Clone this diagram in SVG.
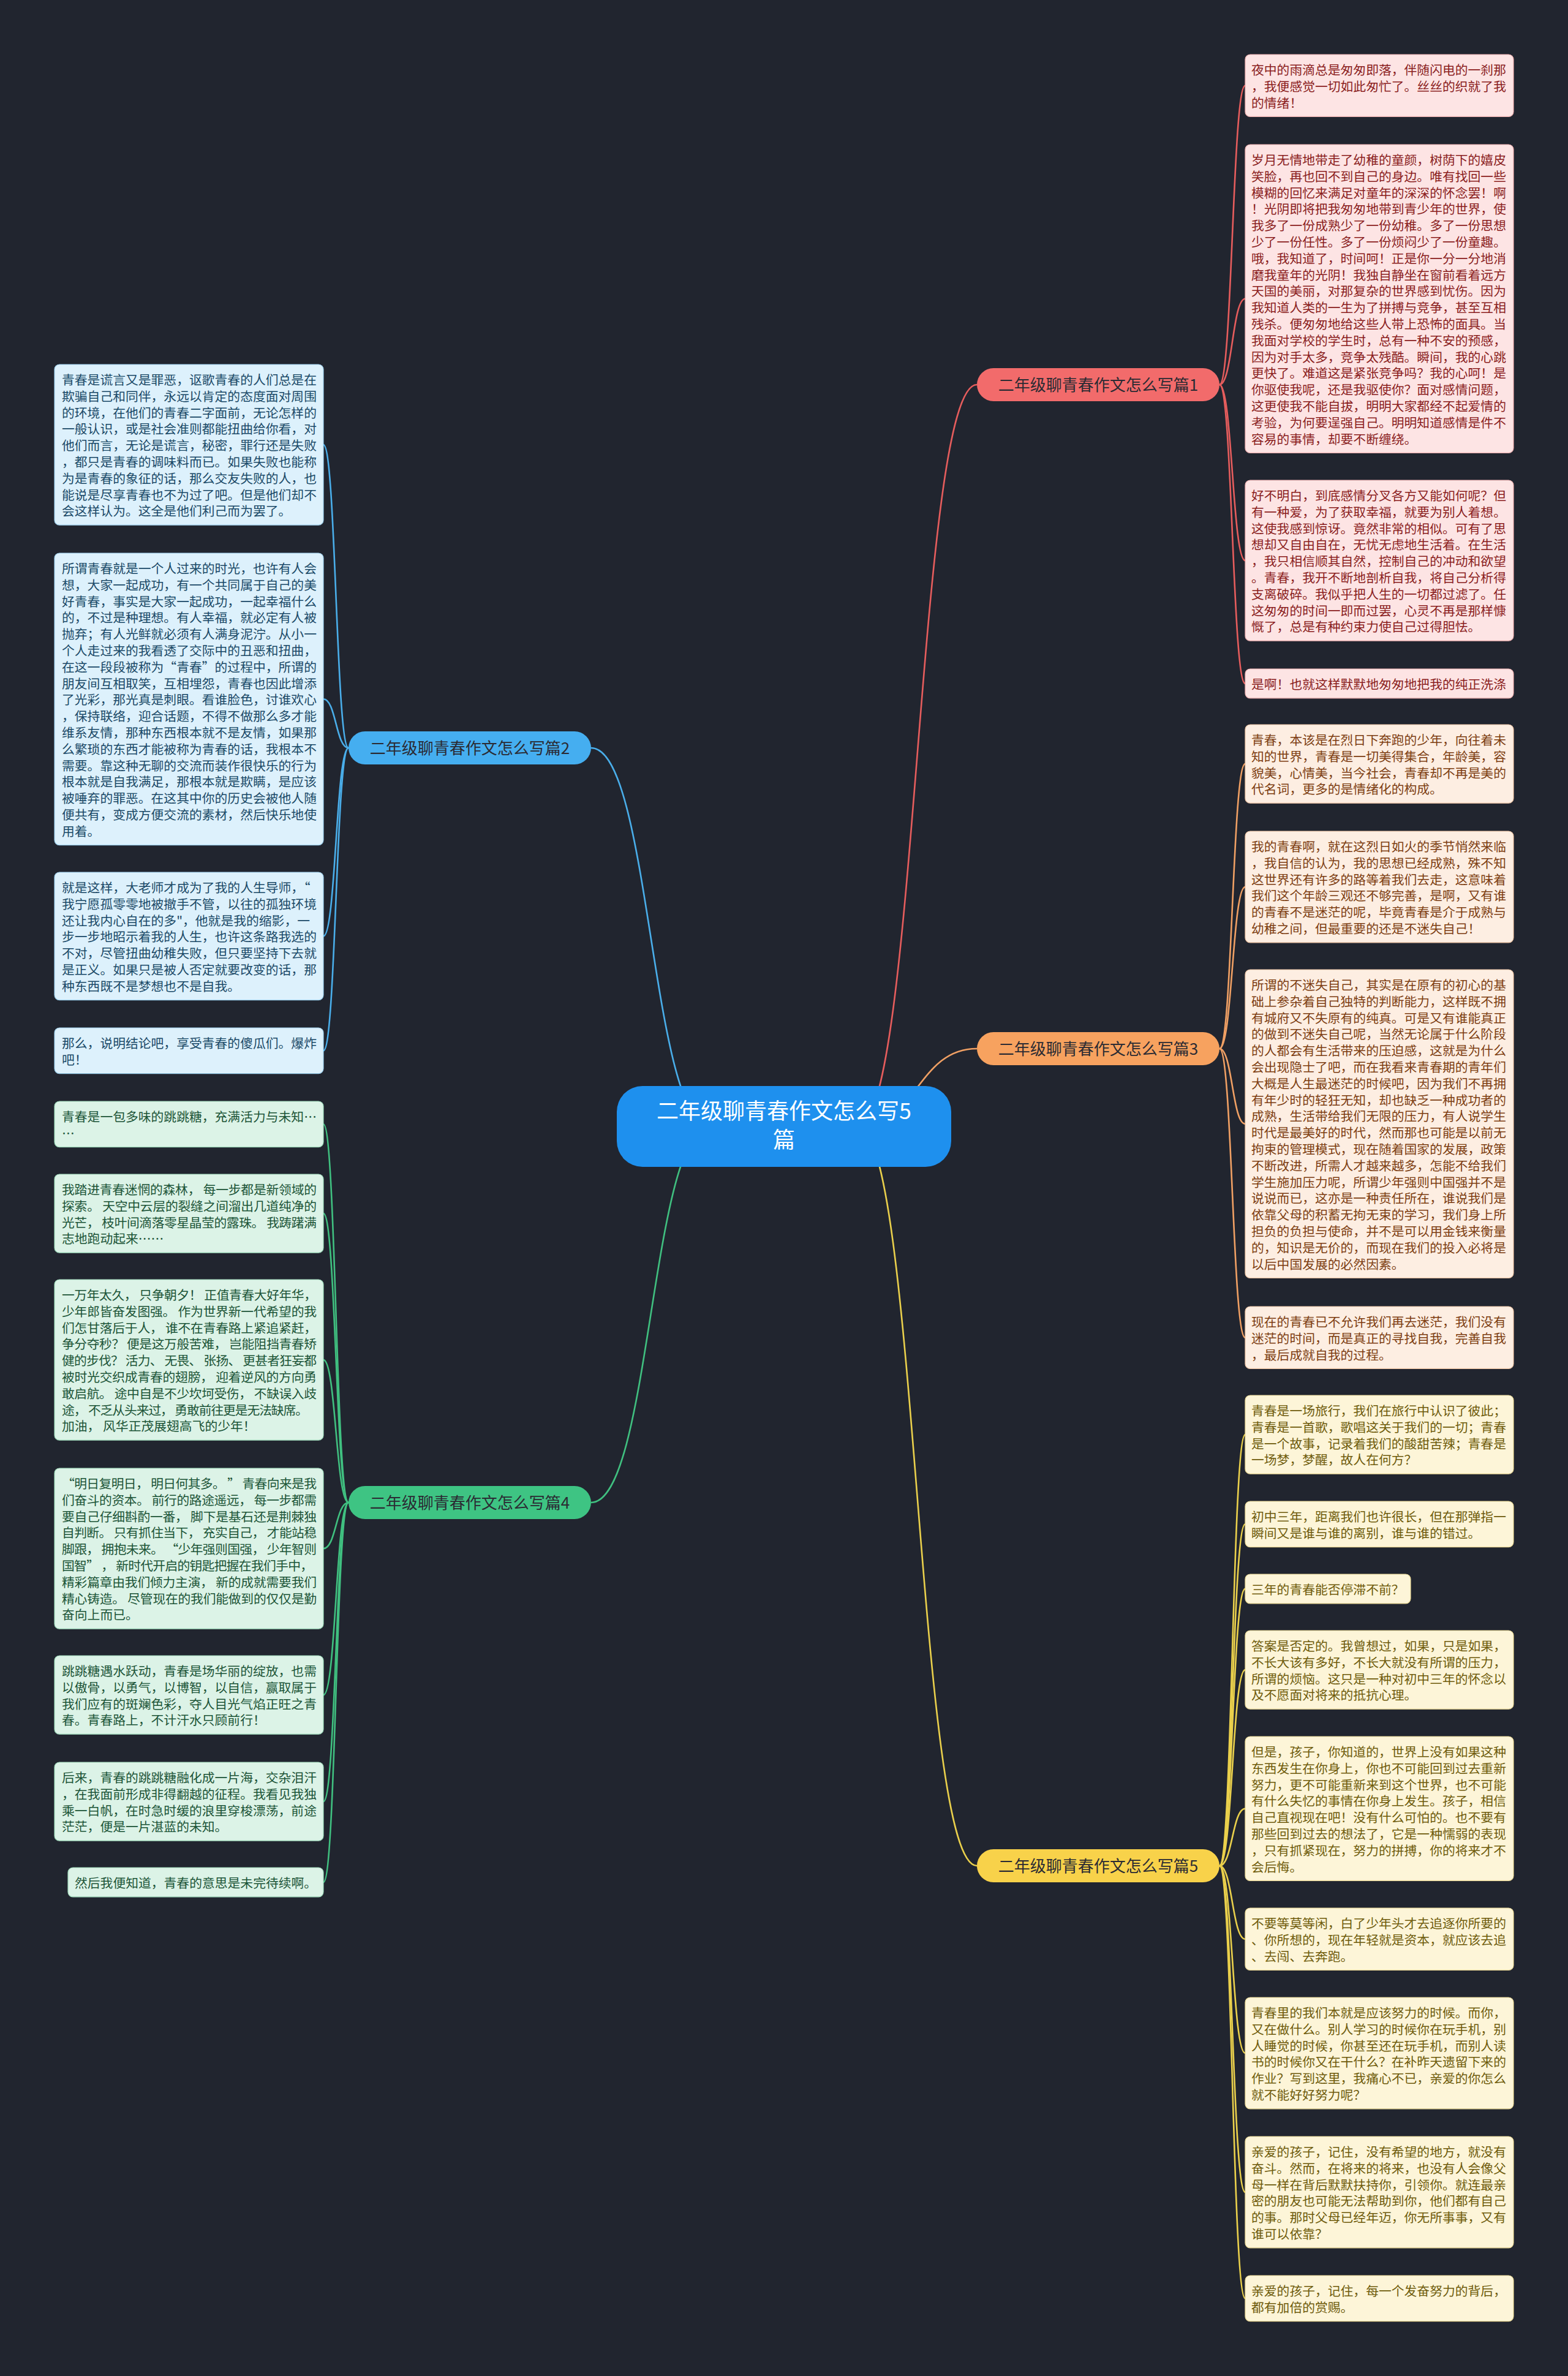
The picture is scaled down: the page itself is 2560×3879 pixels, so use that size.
<svg xmlns="http://www.w3.org/2000/svg" width="2560" height="3879" viewBox="0 0 2560 3879">
<style>
text{font-family:"Noto Sans CJK SC","Noto Sans",sans-serif;font-size:20.8px}
.lf rect{stroke-width:1.2}
.r1 rect{fill:#fde4e4;stroke:#f2b3b3}.r1 text{fill:#8b1e1e}
.r3 rect{fill:#fdeee2;stroke:#f2c8a8}.r3 text{fill:#7d3e12}
.r5 rect{fill:#fdf5d8;stroke:#eedc98}.r5 text{fill:#6f5c0c}
.l2 rect{fill:#ddf1fc;stroke:#9fd2ef}.l2 text{fill:#1b4a68}
.l4 rect{fill:#dcf3e7;stroke:#9fdcbc}.l4 text{fill:#1c5538}
.cn path{fill:none;stroke-width:2.6}
.k1{stroke:#e65d5d}.k3{stroke:#f0a064}.k5{stroke:#ead04c}.k2{stroke:#4aaeea}.k4{stroke:#40c080}
.br text{font-size:26px;fill:#2b2b33;text-anchor:middle}
</style>
<rect width="2560" height="3879" fill="#21252f"/>
<g id="connectors" class="cn">
<path class="k1" d="M1400,1839 C1497.5,1839 1497.5,628 1595,628"/>
<path class="k3" d="M1400,1839 C1497.5,1839 1497.5,1712 1595,1712"/>
<path class="k5" d="M1400,1839 C1497.5,1839 1497.5,3046 1595,3046"/>
<path class="k2" d="M1160,1839 C1062.5,1839 1062.5,1221 965,1221"/>
<path class="k4" d="M1160,1839 C1062.5,1839 1062.5,2453 965,2453"/>
<path class="k1" d="M1991,628 C2012,628 2012,139.7 2033,139.7"/>
<path class="k1" d="M1991,628 C2012,628 2012,487.7 2033,487.7"/>
<path class="k1" d="M1991,628 C2012,628 2012,915.1 2033,915.1"/>
<path class="k1" d="M1991,628 C2012,628 2012,1115.9 2033,1115.9"/>
<path class="k3" d="M1991,1712 C2012,1712 2012,1247.1 2033,1247.1"/>
<path class="k3" d="M1991,1712 C2012,1712 2012,1447.9 2033,1447.9"/>
<path class="k3" d="M1991,1712 C2012,1712 2012,1834.7 2033,1834.7"/>
<path class="k3" d="M1991,1712 C2012,1712 2012,2183.7 2033,2183.7"/>
<path class="k5" d="M1991,3046 C2012,3046 2012,2342.1 2033,2342.1"/>
<path class="k5" d="M1991,3046 C2012,3046 2012,2488.3 2033,2488.3"/>
<path class="k5" d="M1991,3046 C2012,3046 2012,2593.9 2033,2593.9"/>
<path class="k5" d="M1991,3046 C2012,3046 2012,2726.1 2033,2726.1"/>
<path class="k5" d="M1991,3046 C2012,3046 2012,2952.7 2033,2952.7"/>
<path class="k5" d="M1991,3046 C2012,3046 2012,3165.7 2033,3165.7"/>
<path class="k5" d="M1991,3046 C2012,3046 2012,3351.9 2033,3351.9"/>
<path class="k5" d="M1991,3046 C2012,3046 2012,3578.9 2033,3578.9"/>
<path class="k5" d="M1991,3046 C2012,3046 2012,3752.3 2033,3752.3"/>
<path class="k2" d="M569,1221 C548.5,1221 548.5,726.1 528,726.1"/>
<path class="k2" d="M569,1221 C548.5,1221 548.5,1141.3 528,1141.3"/>
<path class="k2" d="M569,1221 C548.5,1221 548.5,1528.3 528,1528.3"/>
<path class="k2" d="M569,1221 C548.5,1221 548.5,1715.3 528,1715.3"/>
<path class="k4" d="M569,2453 C548.5,2453 548.5,1835.3 528,1835.3"/>
<path class="k4" d="M569,2453 C548.5,2453 548.5,1981.1 528,1981.1"/>
<path class="k4" d="M569,2453 C548.5,2453 548.5,2220.1 528,2220.1"/>
<path class="k4" d="M569,2453 C548.5,2453 548.5,2528.1 528,2528.1"/>
<path class="k4" d="M569,2453 C548.5,2453 548.5,2767.1 528,2767.1"/>
<path class="k4" d="M569,2453 C548.5,2453 548.5,2941.1 528,2941.1"/>
<path class="k4" d="M569,2453 C548.5,2453 548.5,3072.9 528,3072.9"/>
</g>
<g id="center">
<rect x="1007" y="1773" width="546" height="132" rx="42" fill="#1e90ee"/>
<text x="1280" y="1827" font-size="36" fill="#ffffff" text-anchor="middle" style="font-size:36px">二年级聊青春作文怎么写5</text>
<text x="1280" y="1874" font-size="36" fill="#ffffff" text-anchor="middle" style="font-size:36px">篇</text>
</g>
<g id="b1" class="br"><rect x="1595" y="601" width="396" height="54" rx="27" fill="#f26b6b"/><text x="1793" y="638">二年级聊青春作文怎么写篇1</text></g>
<g id="b3" class="br"><rect x="1595" y="1685" width="396" height="54" rx="27" fill="#f7a25f"/><text x="1793" y="1722">二年级聊青春作文怎么写篇3</text></g>
<g id="b5" class="br"><rect x="1595" y="3019" width="396" height="54" rx="27" fill="#f8d24a"/><text x="1793" y="3056">二年级聊青春作文怎么写篇5</text></g>
<g id="b2" class="br"><rect x="569" y="1194" width="396" height="54" rx="27" fill="#45aef0"/><text x="767" y="1231">二年级聊青春作文怎么写篇2</text></g>
<g id="b4" class="br"><rect x="569" y="2426" width="396" height="54" rx="27" fill="#3ec483"/><text x="767" y="2463">二年级聊青春作文怎么写篇4</text></g>

<g id="r1a" class="lf r1"><rect x="2033" y="89" width="438" height="101.4" rx="8"/><text x="2043" y="122"><tspan x="2043">夜中的雨滴总是匆匆即落，伴随闪电的一刹那</tspan><tspan x="2043" dy="26.8">，我便感觉一切如此匆忙了。丝丝的织就了我</tspan><tspan x="2043" dy="26.8">的情绪！</tspan></text></g>
<g id="r1b" class="lf r1"><rect x="2033" y="236" width="438" height="503.4" rx="8"/><text x="2043" y="269"><tspan x="2043">岁月无情地带走了幼稚的童颜，树荫下的嬉皮</tspan><tspan x="2043" dy="26.8">笑脸，再也回不到自己的身边。唯有找回一些</tspan><tspan x="2043" dy="26.8">模糊的回忆来满足对童年的深深的怀念罢！啊</tspan><tspan x="2043" dy="26.8">！光阴即将把我匆匆地带到青少年的世界，使</tspan><tspan x="2043" dy="26.8">我多了一份成熟少了一份幼稚。多了一份思想</tspan><tspan x="2043" dy="26.8">少了一份任性。多了一份烦闷少了一份童趣。</tspan><tspan x="2043" dy="26.8">哦，我知道了，时间呵！正是你一分一分地消</tspan><tspan x="2043" dy="26.8">磨我童年的光阴！我独自静坐在窗前看着远方</tspan><tspan x="2043" dy="26.8">天国的美丽，对那复杂的世界感到忧伤。因为</tspan><tspan x="2043" dy="26.8">我知道人类的一生为了拼搏与竞争，甚至互相</tspan><tspan x="2043" dy="26.8">残杀。便匆匆地给这些人带上恐怖的面具。当</tspan><tspan x="2043" dy="26.8">我面对学校的学生时，总有一种不安的预感，</tspan><tspan x="2043" dy="26.8">因为对手太多，竞争太残酷。瞬间，我的心跳</tspan><tspan x="2043" dy="26.8">更快了。难道这是紧张竞争吗？我的心呵！是</tspan><tspan x="2043" dy="26.8">你驱使我呢，还是我驱使你？面对感情问题，</tspan><tspan x="2043" dy="26.8">这更使我不能自拔，明明大家都经不起爱情的</tspan><tspan x="2043" dy="26.8">考验，为何要逞强自己。明明知道感情是件不</tspan><tspan x="2043" dy="26.8">容易的事情，却要不断缠绕。</tspan></text></g>
<g id="r1c" class="lf r1"><rect x="2033" y="784" width="438" height="262.2" rx="8"/><text x="2043" y="817"><tspan x="2043">好不明白，到底感情分叉各方又能如何呢？但</tspan><tspan x="2043" dy="26.8">有一种爱，为了获取幸福，就要为别人着想。</tspan><tspan x="2043" dy="26.8">这使我感到惊讶。竟然非常的相似。可有了思</tspan><tspan x="2043" dy="26.8">想却又自由自在，无忧无虑地生活着。在生活</tspan><tspan x="2043" dy="26.8">，我只相信顺其自然，控制自己的冲动和欲望</tspan><tspan x="2043" dy="26.8">。青春，我开不断地剖析自我，将自己分析得</tspan><tspan x="2043" dy="26.8">支离破碎。我似乎把人生的一切都过滤了。任</tspan><tspan x="2043" dy="26.8">这匆匆的时间一即而过罢，心灵不再是那样慷</tspan><tspan x="2043" dy="26.8">慨了，总是有种约束力使自己过得胆怯。</tspan></text></g>
<g id="r1d" class="lf r1"><rect x="2033" y="1092" width="438" height="47.8" rx="8"/><text x="2043" y="1125">是啊！也就这样默默地匆匆地把我的纯正洗涤</text></g>

<g id="r3a" class="lf r3"><rect x="2033" y="1183" width="438" height="128.2" rx="8"/><text x="2043" y="1216"><tspan x="2043">青春，本该是在烈日下奔跑的少年，向往着未</tspan><tspan x="2043" dy="26.8">知的世界，青春是一切美得集合，年龄美，容</tspan><tspan x="2043" dy="26.8">貌美，心情美，当今社会，青春却不再是美的</tspan><tspan x="2043" dy="26.8">代名词，更多的是情绪化的构成。</tspan></text></g>
<g id="r3b" class="lf r3"><rect x="2033" y="1357" width="438" height="181.8" rx="8"/><text x="2043" y="1390"><tspan x="2043">我的青春啊，就在这烈日如火的季节悄然来临</tspan><tspan x="2043" dy="26.8">，我自信的认为，我的思想已经成熟，殊不知</tspan><tspan x="2043" dy="26.8">这世界还有许多的路等着我们去走，这意味着</tspan><tspan x="2043" dy="26.8">我们这个年龄三观还不够完善，是啊，又有谁</tspan><tspan x="2043" dy="26.8">的青春不是迷茫的呢，毕竟青春是介于成熟与</tspan><tspan x="2043" dy="26.8">幼稚之间，但最重要的还是不迷失自己！</tspan></text></g>
<g id="r3c" class="lf r3"><rect x="2033" y="1583" width="438" height="503.4" rx="8"/><text x="2043" y="1616"><tspan x="2043">所谓的不迷失自己，其实是在原有的初心的基</tspan><tspan x="2043" dy="26.8">础上参杂着自己独特的判断能力，这样既不拥</tspan><tspan x="2043" dy="26.8">有城府又不失原有的纯真。可是又有谁能真正</tspan><tspan x="2043" dy="26.8">的做到不迷失自己呢，当然无论属于什么阶段</tspan><tspan x="2043" dy="26.8">的人都会有生活带来的压迫感，这就是为什么</tspan><tspan x="2043" dy="26.8">会出现隐士了吧，而在我看来青春期的青年们</tspan><tspan x="2043" dy="26.8">大概是人生最迷茫的时候吧，因为我们不再拥</tspan><tspan x="2043" dy="26.8">有年少时的轻狂无知，却也缺乏一种成功者的</tspan><tspan x="2043" dy="26.8">成熟，生活带给我们无限的压力，有人说学生</tspan><tspan x="2043" dy="26.8">时代是最美好的时代，然而那也可能是以前无</tspan><tspan x="2043" dy="26.8">拘束的管理模式，现在随着国家的发展，政策</tspan><tspan x="2043" dy="26.8">不断改进，所需人才越来越多，怎能不给我们</tspan><tspan x="2043" dy="26.8">学生施加压力呢，所谓少年强则中国强并不是</tspan><tspan x="2043" dy="26.8">说说而已，这亦是一种责任所在，谁说我们是</tspan><tspan x="2043" dy="26.8">依靠父母的积蓄无拘无束的学习，我们身上所</tspan><tspan x="2043" dy="26.8">担负的负担与使命，并不是可以用金钱来衡量</tspan><tspan x="2043" dy="26.8">的，知识是无价的，而现在我们的投入必将是</tspan><tspan x="2043" dy="26.8">以后中国发展的必然因素。</tspan></text></g>
<g id="r3d" class="lf r3"><rect x="2033" y="2133" width="438" height="101.4" rx="8"/><text x="2043" y="2166"><tspan x="2043">现在的青春已不允许我们再去迷茫，我们没有</tspan><tspan x="2043" dy="26.8">迷茫的时间，而是真正的寻找自我，完善自我</tspan><tspan x="2043" dy="26.8">，最后成就自我的过程。</tspan></text></g>

<g id="r5a" class="lf r5"><rect x="2033" y="2278" width="438" height="128.2" rx="8"/><text x="2043" y="2311"><tspan x="2043">青春是一场旅行，我们在旅行中认识了彼此；</tspan><tspan x="2043" dy="26.8">青春是一首歌，歌唱这关于我们的一切；青春</tspan><tspan x="2043" dy="26.8">是一个故事，记录着我们的酸甜苦辣；青春是</tspan><tspan x="2043" dy="26.8">一场梦，梦醒，故人在何方？</tspan></text></g>
<g id="r5b" class="lf r5"><rect x="2033" y="2451" width="438" height="74.6" rx="8"/><text x="2043" y="2484"><tspan x="2043">初中三年，距离我们也许很长，但在那弹指一</tspan><tspan x="2043" dy="26.8">瞬间又是谁与谁的离别，谁与谁的错过。</tspan></text></g>
<g id="r5c" class="lf r5"><rect x="2033" y="2570" width="270" height="47.8" rx="8"/><text x="2043" y="2603">三年的青春能否停滞不前？</text></g>
<g id="r5d" class="lf r5"><rect x="2033" y="2662" width="438" height="128.2" rx="8"/><text x="2043" y="2695"><tspan x="2043">答案是否定的。我曾想过，如果，只是如果，</tspan><tspan x="2043" dy="26.8">不长大该有多好，不长大就没有所谓的压力，</tspan><tspan x="2043" dy="26.8">所谓的烦恼。这只是一种对初中三年的怀念以</tspan><tspan x="2043" dy="26.8">及不愿面对将来的抵抗心理。</tspan></text></g>
<g id="r5e" class="lf r5"><rect x="2033" y="2835" width="438" height="235.4" rx="8"/><text x="2043" y="2868"><tspan x="2043">但是，孩子，你知道的，世界上没有如果这种</tspan><tspan x="2043" dy="26.8">东西发生在你身上，你也不可能回到过去重新</tspan><tspan x="2043" dy="26.8">努力，更不可能重新来到这个世界，也不可能</tspan><tspan x="2043" dy="26.8">有什么失忆的事情在你身上发生。孩子，相信</tspan><tspan x="2043" dy="26.8">自己直视现在吧！没有什么可怕的。也不要有</tspan><tspan x="2043" dy="26.8">那些回到过去的想法了，它是一种懦弱的表现</tspan><tspan x="2043" dy="26.8">，只有抓紧现在，努力的拼搏，你的将来才不</tspan><tspan x="2043" dy="26.8">会后悔。</tspan></text></g>
<g id="r5f" class="lf r5"><rect x="2033" y="3115" width="438" height="101.4" rx="8"/><text x="2043" y="3148"><tspan x="2043">不要等莫等闲，白了少年头才去追逐你所要的</tspan><tspan x="2043" dy="26.8">、你所想的，现在年轻就是资本，就应该去追</tspan><tspan x="2043" dy="26.8">、去闯、去奔跑。</tspan></text></g>
<g id="r5g" class="lf r5"><rect x="2033" y="3261" width="438" height="181.8" rx="8"/><text x="2043" y="3294"><tspan x="2043">青春里的我们本就是应该努力的时候。而你，</tspan><tspan x="2043" dy="26.8">又在做什么。别人学习的时候你在玩手机，别</tspan><tspan x="2043" dy="26.8">人睡觉的时候，你甚至还在玩手机，而别人读</tspan><tspan x="2043" dy="26.8">书的时候你又在干什么？在补昨天遗留下来的</tspan><tspan x="2043" dy="26.8">作业？写到这里，我痛心不已，亲爱的你怎么</tspan><tspan x="2043" dy="26.8">就不能好好努力呢？</tspan></text></g>
<g id="r5h" class="lf r5"><rect x="2033" y="3488" width="438" height="181.8" rx="8"/><text x="2043" y="3521"><tspan x="2043">亲爱的孩子，记住，没有希望的地方，就没有</tspan><tspan x="2043" dy="26.8">奋斗。然而，在将来的将来，也没有人会像父</tspan><tspan x="2043" dy="26.8">母一样在背后默默扶持你，引领你。就连最亲</tspan><tspan x="2043" dy="26.8">密的朋友也可能无法帮助到你，他们都有自己</tspan><tspan x="2043" dy="26.8">的事。那时父母已经年迈，你无所事事，又有</tspan><tspan x="2043" dy="26.8">谁可以依靠？</tspan></text></g>
<g id="r5i" class="lf r5"><rect x="2033" y="3715" width="438" height="74.6" rx="8"/><text x="2043" y="3748"><tspan x="2043">亲爱的孩子，记住，每一个发奋努力的背后，</tspan><tspan x="2043" dy="26.8">都有加倍的赏赐。</tspan></text></g>

<g id="l2a" class="lf l2"><rect x="89" y="595" width="439" height="262.2" rx="8"/><text x="101" y="628"><tspan x="101">青春是谎言又是罪恶，讴歌青春的人们总是在</tspan><tspan x="101" dy="26.8">欺骗自己和同伴，永远以肯定的态度面对周围</tspan><tspan x="101" dy="26.8">的环境，在他们的青春二字面前，无论怎样的</tspan><tspan x="101" dy="26.8">一般认识，或是社会准则都能扭曲给你看，对</tspan><tspan x="101" dy="26.8">他们而言，无论是谎言，秘密，罪行还是失败</tspan><tspan x="101" dy="26.8">，都只是青春的调味料而已。如果失败也能称</tspan><tspan x="101" dy="26.8">为是青春的象征的话，那么交友失败的人，也</tspan><tspan x="101" dy="26.8">能说是尽享青春也不为过了吧。但是他们却不</tspan><tspan x="101" dy="26.8">会这样认为。这全是他们利己而为罢了。</tspan></text></g>
<g id="l2b" class="lf l2"><rect x="89" y="903" width="439" height="476.6" rx="8"/><text x="101" y="936"><tspan x="101">所谓青春就是一个人过来的时光，也许有人会</tspan><tspan x="101" dy="26.8">想，大家一起成功，有一个共同属于自己的美</tspan><tspan x="101" dy="26.8">好青春，事实是大家一起成功，一起幸福什么</tspan><tspan x="101" dy="26.8">的，不过是种理想。有人幸福，就必定有人被</tspan><tspan x="101" dy="26.8">抛弃；有人光鲜就必须有人满身泥泞。从小一</tspan><tspan x="101" dy="26.8">个人走过来的我看透了交际中的丑恶和扭曲，</tspan><tspan x="101" dy="26.8">在这一段段被称为“青春”的过程中，所谓的</tspan><tspan x="101" dy="26.8">朋友间互相取笑，互相埋怨，青春也因此增添</tspan><tspan x="101" dy="26.8">了光彩，那光真是刺眼。看谁脸色，讨谁欢心</tspan><tspan x="101" dy="26.8">，保持联络，迎合话题，不得不做那么多才能</tspan><tspan x="101" dy="26.8">维系友情，那种东西根本就不是友情，如果那</tspan><tspan x="101" dy="26.8">么繁琐的东西才能被称为青春的话，我根本不</tspan><tspan x="101" dy="26.8">需要。靠这种无聊的交流而装作很快乐的行为</tspan><tspan x="101" dy="26.8">根本就是自我满足，那根本就是欺瞒，是应该</tspan><tspan x="101" dy="26.8">被唾弃的罪恶。在这其中你的历史会被他人随</tspan><tspan x="101" dy="26.8">便共有，变成方便交流的素材，然后快乐地使</tspan><tspan x="101" dy="26.8">用着。</tspan></text></g>
<g id="l2c" class="lf l2"><rect x="89" y="1424" width="439" height="208.6" rx="8"/><text x="101" y="1457"><tspan x="101">就是这样，大老师才成为了我的人生导师，“</tspan><tspan x="101" dy="26.8">我宁愿孤零零地被撤手不管，以往的孤独环境</tspan><tspan x="101" dy="26.8">还让我内心自在的多"，他就是我的缩影，一</tspan><tspan x="101" dy="26.8">步一步地昭示着我的人生，也许这条路我选的</tspan><tspan x="101" dy="26.8">不对，尽管扭曲幼稚失败，但只要坚持下去就</tspan><tspan x="101" dy="26.8">是正义。如果只是被人否定就要改变的话，那</tspan><tspan x="101" dy="26.8">种东西既不是梦想也不是自我。</tspan></text></g>
<g id="l2d" class="lf l2"><rect x="89" y="1678" width="439" height="74.6" rx="8"/><text x="101" y="1711"><tspan x="101">那么，说明结论吧，享受青春的傻瓜们。爆炸</tspan><tspan x="101" dy="26.8">吧！</tspan></text></g>

<g id="l4a" class="lf l4"><rect x="89" y="1798" width="439" height="74.6" rx="8"/><text x="101" y="1831"><tspan x="101">青春是一包多味的跳跳糖，充满活力与未知…</tspan><tspan x="101" dy="26.8">…</tspan></text></g>
<g id="l4b" class="lf l4"><rect x="89" y="1917" width="439" height="128.2" rx="8"/>
<text x="101" y="1950" textLength="416" lengthAdjust="spacing">我踏进青春迷惘的森林， 每一步都是新领域的</text>
<text x="101" y="1976.8" textLength="416" lengthAdjust="spacing">探索。 天空中云层的裂缝之间溜出几道纯净的</text>
<text x="101" y="2003.6" textLength="416" lengthAdjust="spacing">光芒， 枝叶间滴落零星晶莹的露珠。 我踌躇满</text>
<text x="101" y="2030.4">志地跑动起来……</text></g>
<g id="l4c" class="lf l4"><rect x="89" y="2089" width="439" height="262.2" rx="8"/>
<text x="101" y="2122" textLength="416" lengthAdjust="spacing">一万年太久， 只争朝夕！ 正值青春大好年华，</text>
<text x="101" y="2148.8" textLength="416" lengthAdjust="spacing">少年郎皆奋发图强。 作为世界新一代希望的我</text>
<text x="101" y="2175.6" textLength="416" lengthAdjust="spacing">们怎甘落后于人， 谁不在青春路上紧追紧赶，</text>
<text x="101" y="2202.4" textLength="416" lengthAdjust="spacing">争分夺秒？ 便是这万般苦难， 岂能阻挡青春矫</text>
<text x="101" y="2229.2" textLength="416" lengthAdjust="spacing">健的步伐？ 活力、 无畏、 张扬、 更甚者狂妄都</text>
<text x="101" y="2256" textLength="416" lengthAdjust="spacing">被时光交织成青春的翅膀， 迎着逆风的方向勇</text>
<text x="101" y="2282.8" textLength="416" lengthAdjust="spacing">敢启航。 途中自是不少坎坷受伤， 不缺误入歧</text>
<text x="101" y="2309.6" textLength="402" lengthAdjust="spacing">途， 不乏从头来过， 勇敢前往更是无法缺席。</text>
<text x="101" y="2336.4">加油， 风华正茂展翅高飞的少年！</text></g>
<g id="l4d" class="lf l4"><rect x="89" y="2397" width="439" height="262.2" rx="8"/>
<text x="101" y="2430" textLength="416" lengthAdjust="spacing">“明日复明日， 明日何其多。 ” 青春向来是我</text>
<text x="101" y="2456.8" textLength="416" lengthAdjust="spacing">们奋斗的资本。 前行的路途遥远， 每一步都需</text>
<text x="101" y="2483.6" textLength="416" lengthAdjust="spacing">要自己仔细斟酌一番， 脚下是基石还是荆棘独</text>
<text x="101" y="2510.4" textLength="416" lengthAdjust="spacing">自判断。 只有抓住当下， 充实自己， 才能站稳</text>
<text x="101" y="2537.2" textLength="416" lengthAdjust="spacing">脚跟， 拥抱未来。 “少年强则国强， 少年智则</text>
<text x="101" y="2564" textLength="410" lengthAdjust="spacing">国智” ， 新时代开启的钥匙把握在我们手中，</text>
<text x="101" y="2590.8" textLength="416" lengthAdjust="spacing">精彩篇章由我们倾力主演， 新的成就需要我们</text>
<text x="101" y="2617.6" textLength="416" lengthAdjust="spacing">精心铸造。 尽管现在的我们能做到的仅仅是勤</text>
<text x="101" y="2644.4">奋向上而已。</text></g>
<g id="l4e" class="lf l4"><rect x="89" y="2703" width="439" height="128.2" rx="8"/><text x="101" y="2736"><tspan x="101">跳跳糖遇水跃动，青春是场华丽的绽放，也需</tspan><tspan x="101" dy="26.8">以傲骨，以勇气，以博智，以自信，赢取属于</tspan><tspan x="101" dy="26.8">我们应有的斑斓色彩，夺人目光气焰正旺之青</tspan><tspan x="101" dy="26.8">春。青春路上，不计汗水只顾前行！</tspan></text></g>
<g id="l4f" class="lf l4"><rect x="89" y="2877" width="439" height="128.2" rx="8"/><text x="101" y="2910"><tspan x="101">后来，青春的跳跳糖融化成一片海，交杂泪汗</tspan><tspan x="101" dy="26.8">，在我面前形成非得翻越的征程。我看见我独</tspan><tspan x="101" dy="26.8">乘一白帆，在时急时缓的浪里穿梭漂荡，前途</tspan><tspan x="101" dy="26.8">茫茫，便是一片湛蓝的未知。</tspan></text></g>
<g id="l4g" class="lf l4"><rect x="111" y="3049" width="417" height="47.8" rx="8"/><text x="122" y="3082">然后我便知道，青春的意思是未完待续啊。</text></g>
</svg>
